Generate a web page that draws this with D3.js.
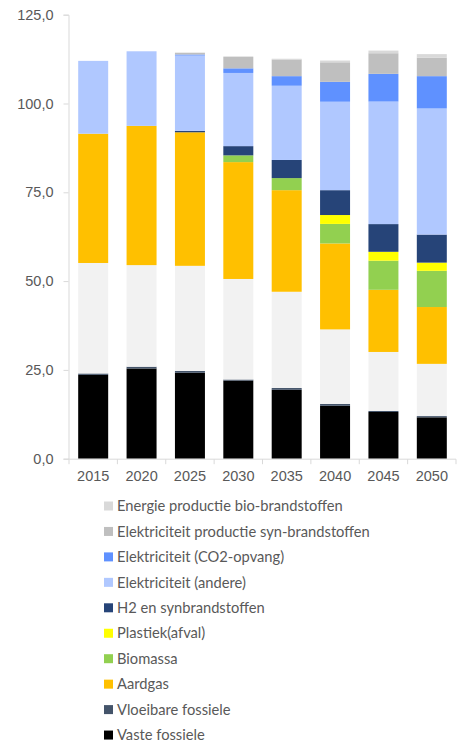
<!DOCTYPE html>
<html>
<head>
<meta charset="utf-8">
<script src="https://cdn.jsdelivr.net/npm/d3@7"></script>
<style>
  html, body { margin: 0; padding: 0; background: #fff; }
  svg { display: block; font-family: Lato, "Open Sans", sans-serif; }
</style>
</head>
<body>
<svg id="chart" width="461" height="744"></svg>
<script>
// ---- data ----
const years = ["2015", "2020", "2025", "2030", "2035", "2040", "2045", "2050"];
const vasteFossiele      = [23.6, 25.4, 24.2, 22.0, 19.4, 14.9, 13.15, 11.65];
const vloeibareFossiele  = [0.4, 0.5, 0.5, 0.3, 0.5, 0.5, 0.3, 0.35];
const overig             = [31.1, 28.6, 29.6, 28.3, 27.1, 21.0, 16.6, 14.7];
const aardgas            = [36.4, 39.2, 37.6, 32.9, 28.6, 24.2, 17.5, 16.0];
const biomassa           = [0, 0, 0, 1.9, 3.4, 5.5, 8.2, 10.2];
const plastiek           = [0, 0, 0, 0, 0, 2.5, 2.5, 2.3];
const h2Synbrandstoffen  = [0, 0, 0.4, 2.6, 5.1, 7.0, 7.8, 7.9];
const elekAndere         = [20.5, 21.0, 21.2, 20.6, 20.9, 24.9, 34.5, 35.5];
const elekCO2            = [0, 0, 0.3, 1.3, 2.7, 5.6, 7.8, 9.1];
const elekSyn            = [0, 0, 0.5, 3.3, 4.7, 5.5, 5.8, 5.2];
const energieBio         = [0, 0, 0, 0, 0.2, 0.5, 0.75, 1.0];
const yTicks = [0, 25, 50, 75, 100, 125];

// series, bottom to top
const series = [
  { key: "Vaste fossiele", values: vasteFossiele, color: "#000000", legend: true },
  { key: "Vloeibare fossiele", values: vloeibareFossiele, color: "#44546a", legend: true },
  { key: "Overig", values: overig, color: "#f2f2f2", legend: false },
  { key: "Aardgas", values: aardgas, color: "#ffc000", legend: true },
  { key: "Biomassa", values: biomassa, color: "#92d050", legend: true },
  { key: "Plastiek(afval)", values: plastiek, color: "#ffff00", legend: true },
  { key: "H2 en synbrandstoffen", values: h2Synbrandstoffen, color: "#264478", legend: true },
  { key: "Elektriciteit (andere)", values: elekAndere, color: "#b0c8ff", legend: true },
  { key: "Elektriciteit (CO2-opvang)", values: elekCO2, color: "#5f91ff", legend: true },
  { key: "Elektriciteit productie syn-brandstoffen", values: elekSyn, color: "#bfbfbf", legend: true },
  { key: "Energie productie bio-brandstoffen", values: energieBio, color: "#d9d9d9", legend: true }
];

const rows = years.map((y, i) => {
  const r = { year: y };
  series.forEach(s => r[s.key] = s.values[i]);
  return r;
});

const svg = d3.select("#chart");
const x = d3.scaleBand().domain(years).range([69, 456]).paddingInner(0.38).paddingOuter(0.19);
const y = d3.scaleLinear().domain([0, 125]).range([458.7, 14.7]);

const stack = d3.stack().keys(series.map(s => s.key));
const stacked = stack(rows);

const axisColor = "#d9d9d9";
const textColor = "#595959";

// bars
svg.append("g").selectAll("g").data(stacked).join("g")
  .attr("fill", (d, i) => series[i].color)
  .selectAll("rect").data(d => d).join("rect")
  .attr("x", d => x(d.data.year))
  .attr("width", x.bandwidth())
  .attr("y", d => y(d[1]))
  .attr("height", d => Math.max(0, y(d[0]) - y(d[1])));

// y axis
const fmt = v => d3.format(".1f")(v).replace(".", ",");
const yAxis = svg.append("g").attr("transform", "translate(68.5,0)")
  .call(d3.axisLeft(y).tickValues(yTicks).tickFormat(fmt).tickSize(5).tickPadding(10));
yAxis.select(".domain").attr("stroke", axisColor);
yAxis.selectAll(".tick line").attr("stroke", axisColor);
yAxis.selectAll(".tick text").attr("fill", textColor).style("font-size", "14.5px");

// x axis
const xAxis = svg.append("g").attr("transform", "translate(0,459.2)")
  .call(d3.axisBottom(x).tickSize(0).tickPadding(12));
xAxis.select(".domain").attr("stroke", axisColor).attr("d", "M68.5,0H456");
xAxis.selectAll(".tick text").attr("fill", textColor).style("font-size", "14.5px");
// boundary tick marks between categories
const bounds = years.map(yr => x(yr) - x.step() * x.paddingInner() / 2).concat([456]);
xAxis.append("g").selectAll("line").data(bounds).join("line")
  .attr("x1", d => d).attr("x2", d => d).attr("y1", 0).attr("y2", 5)
  .attr("stroke", axisColor);

// legend
const legendItems = series.filter(s => s.legend).slice().reverse();
const lg = svg.append("g").attr("transform", "translate(104,506)");
const item = lg.selectAll("g").data(legendItems).join("g")
  .attr("transform", (d, i) => `translate(0,${i * 25.45})`);
item.append("rect").attr("x", 0).attr("y", -4.5).attr("width", 9).attr("height", 9)
  .attr("fill", d => d.color);
item.append("text").attr("x", 13).attr("y", 0).attr("dy", "0.35em")
  .attr("fill", textColor).style("font-size", "14.7px").text(d => d.key);
</script>
</body>
</html>
